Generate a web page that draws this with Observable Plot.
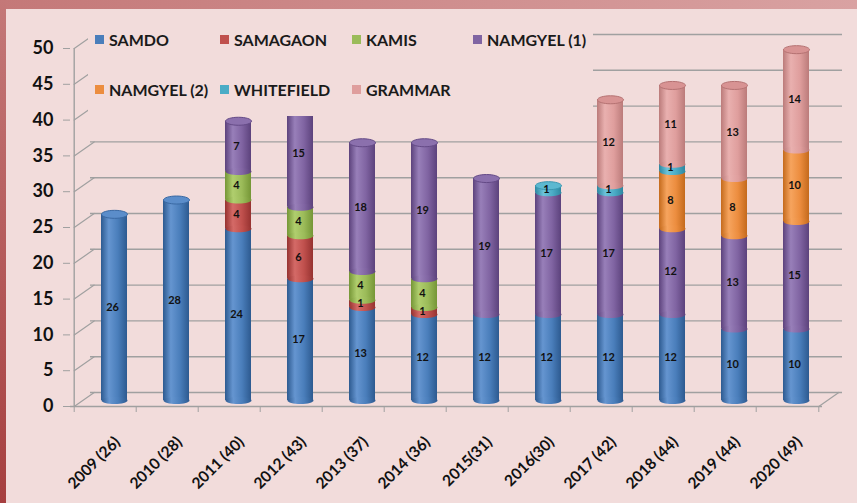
<!DOCTYPE html>
<html>
<head>
<meta charset="utf-8">
<script src="https://cdn.jsdelivr.net/npm/d3@7"></script>
<script src="https://cdn.jsdelivr.net/npm/@observablehq/plot@0.6"></script>
<style>
  html, body { margin: 0; padding: 0; }
  body { width: 857px; height: 503px; overflow: hidden; }
  #wrap { position: relative; width: 857px; height: 503px; background: #f2dcdb; font-family: Lato, "Open Sans", sans-serif; }
  #ftop { position: absolute; left: 0; top: 0; width: 857px; height: 9px; background: linear-gradient(to right, #c47878, #d9a2a2); }
  #fleft { position: absolute; left: 0; top: 0; width: 6px; height: 503px; background: linear-gradient(to bottom, #c47878, #a63f3f); }
  #chart { position: absolute; left: 0; top: 0; }
  #legend { position: absolute; left: 88px; top: 18px; width: 505px; height: 98px; background: #f2dcdb; }
  .li { position: absolute; display: flex; align-items: center; font-weight: 700; font-size: 16px; color: #1a1a1a; white-space: nowrap; }
  .sw { width: 9px; height: 9px; margin-right: 5px; }
</style>
</head>
<body>
<div id="wrap">
  <div id="ftop"></div>
  <div id="fleft"></div>
  <div id="chart"></div>
  <div id="legend"></div>
</div>
<script>
const years = ["2009 (26)","2010 (28)","2011 (40)","2012 (43)","2013 (37)","2014 (36)","2015(31)","2016(30)","2017 (42)","2018 (44)","2019 (44)","2020 (49)"];
const schools = ["SAMDO","SAMAGAON","KAMIS","NAMGYEL (1)","NAMGYEL (2)","WHITEFIELD","GRAMMAR"];
const samdo      = [26,28,24,17,13,12,12,12,12,12,10,10];
const samagaon   = [0,0,4,6,1,1,0,0,0,0,0,0];
const kamis      = [0,0,4,4,4,4,0,0,0,0,0,0];
const namgyel1   = [0,0,7,15,18,19,19,17,17,12,13,15];
const namgyel2   = [0,0,0,0,0,0,0,0,0,8,8,10];
const whitefield = [0,0,0,0,0,0,0,1,1,1,0,0];
const grammar    = [0,0,0,0,0,0,0,0,12,11,13,14];
const yTicks = [0,5,10,15,20,25,30,35,40,45,50];

const series = [samdo, samagaon, kamis, namgyel1, namgyel2, whitefield, grammar];
const baseColors = ["#4a7ebb","#c0504d","#9bbb59","#8064a2","#ec8d3f","#4bacc6","#df9e9d"];
const edgeColors = ["#2d5a90","#963230","#759636","#5c427c","#c46a1c","#2d87a0","#bb7b7a"];
const hiColors   = ["#6595d0","#d46a67","#b0ce6e","#987fb9","#f6a45e","#6cc3db","#e9b0af"];
const capFill    = ["#5b8dca","#c95e5b","#a6c565","#8b70ad","#f09a52","#5cb8d0","#d89393"];
const capStroke  = ["#3a69a3","#9a3431","#789a3a","#644a86","#c76b1e","#3a96b0","#b57272"];

const rows = [];
years.forEach((y, i) => schools.forEach((s, j) => {
  if (series[j][i] > 0) rows.push({year: y, school: s, value: series[j][i]});
}));
const tops = years.map((y, i) => {
  let total = 0, top = 0;
  series.forEach((arr, j) => { if (arr[i] > 0) { total += arr[i]; top = j; } });
  return {year: y, total, school: schools[top], si: top};
});

const gradUrls = schools.map((s, j) => `url(#cyl${j})`);
const K = 0.5523;
function ellipse(rx, ry) {
  return { draw(c) {
    c.moveTo(-rx, 0);
    c.bezierCurveTo(-rx, -ry*K, -rx*K, -ry, 0, -ry);
    c.bezierCurveTo(rx*K, -ry, rx, -ry*K, rx, 0);
    c.bezierCurveTo(rx, ry*K, rx*K, ry, 0, ry);
    c.bezierCurveTo(-rx*K, ry, -rx, ry*K, -rx, 0);
    c.closePath();
  }};
}
const lineShape = { draw(c, l) { c.moveTo(0, 0); c.lineTo(0, -l); } };

const gridColor = "#a0a0a0";
const bw = 26;
const ox = -40.3; // half step + depth offset

const chart = Plot.plot({
  width: 857, height: 503,
  marginLeft: 79, marginRight: 26, marginTop: 48, marginBottom: 97,
  style: {background: "transparent", fontFamily: "Lato, 'Open Sans', sans-serif", overflow: "visible"},
  x: {domain: years, paddingInner: 0.585, paddingOuter: 0.2925, axis: null},
  y: {domain: [0, 50], axis: null},
  color: {domain: schools, range: gradUrls},
  marks: [
    Plot.ruleY(yTicks, {dx: 11, dy: -14, stroke: gridColor, strokeWidth: 1.4}),
    Plot.vector(yTicks, {x: () => years[0], y: d => d, dx: ox, length: 24.4, rotate: 55, anchor: "start", shape: lineShape, stroke: gridColor, strokeWidth: 1.2}),
    Plot.vector([0], {x: () => years[11], y: d => d, dx: 22.3, length: 24.4, rotate: 55, anchor: "start", shape: lineShape, stroke: gridColor, strokeWidth: 1.2}),
    Plot.ruleY([0], {dx: -9, stroke: gridColor, strokeWidth: 1.4}),
    Plot.ruleX([years[0]], {y1: 0, y2: 50, dx: ox, stroke: gridColor, strokeWidth: 1.4}),
    Plot.axisY(yTicks, {anchor: "left", label: null, dx: -9, tickSize: 7, tickPadding: 10, stroke: gridColor, fontSize: 18, fontWeight: "bold", fill: "#111"}),
    Plot.axisX(years, {anchor: "bottom", label: null, tickSize: 6, tickFormat: () => "", dx: ox, stroke: gridColor}),
    Plot.axisX([years[11]], {anchor: "bottom", label: null, tickSize: 6, tickFormat: () => "", dx: 22.3, stroke: gridColor}),
    Plot.text(years, {x: d => d, y: () => 0, text: d => d, rotate: -45, textAnchor: "end", dx: 3, dy: 33, fontSize: 15.5, fontWeight: "bold", fill: "#111"}),
    Plot.barY(rows, Plot.stackY({x: "year", y: "value", z: "school", fill: "school", order: schools, dy: -6})),
    Plot.dot(rows, Plot.stackY1({x: "year", y: "value", z: "school", fill: "school", order: schools, symbol: ellipse(bw/2, 3.5), dy: -6})),
    ...schools.map((s, j) => Plot.dot(tops.filter(t => t.si === j), {x: "year", y: "total", dy: -6, symbol: ellipse(bw/2, 4), fill: capFill[j], stroke: capStroke[j], strokeWidth: 1})),
    Plot.text(rows, Plot.stackY({x: "year", y: "value", z: "school", text: "value", order: schools, dy: -6, dx: -2, fontSize: 11, fontWeight: "bold", fill: "#111"}))
  ]
});

// cylinder gradients
const NS = "http://www.w3.org/2000/svg";
const defs = document.createElementNS(NS, "defs");
schools.forEach((s, j) => {
  const g = document.createElementNS(NS, "linearGradient");
  g.setAttribute("id", `cyl${j}`);
  g.setAttribute("x1", "0"); g.setAttribute("x2", "1"); g.setAttribute("y1", "0"); g.setAttribute("y2", "0");
  [[0, edgeColors[j]], [0.3, hiColors[j]], [0.65, baseColors[j]], [1, edgeColors[j]]].forEach(([o, c]) => {
    const st = document.createElementNS(NS, "stop");
    st.setAttribute("offset", o); st.setAttribute("stop-color", c);
    g.appendChild(st);
  });
  defs.appendChild(g);
});
chart.insertBefore(defs, chart.firstChild);
document.getElementById("chart").appendChild(chart);

// legend
const legendPos = [[7, 22],[132, 22],[264, 22],[385, 22],[7, 72],[132, 72],[264, 72]];
const leg = document.getElementById("legend");
schools.forEach((s, j) => {
  const d = document.createElement("div");
  d.className = "li";
  d.style.left = legendPos[j][0] + "px";
  d.style.top = (legendPos[j][1] - 10) + "px";
  d.innerHTML = `<span class="sw" style="background:${baseColors[j]}"></span>${s}`;
  leg.appendChild(d);
});
</script>
</body>
</html>
